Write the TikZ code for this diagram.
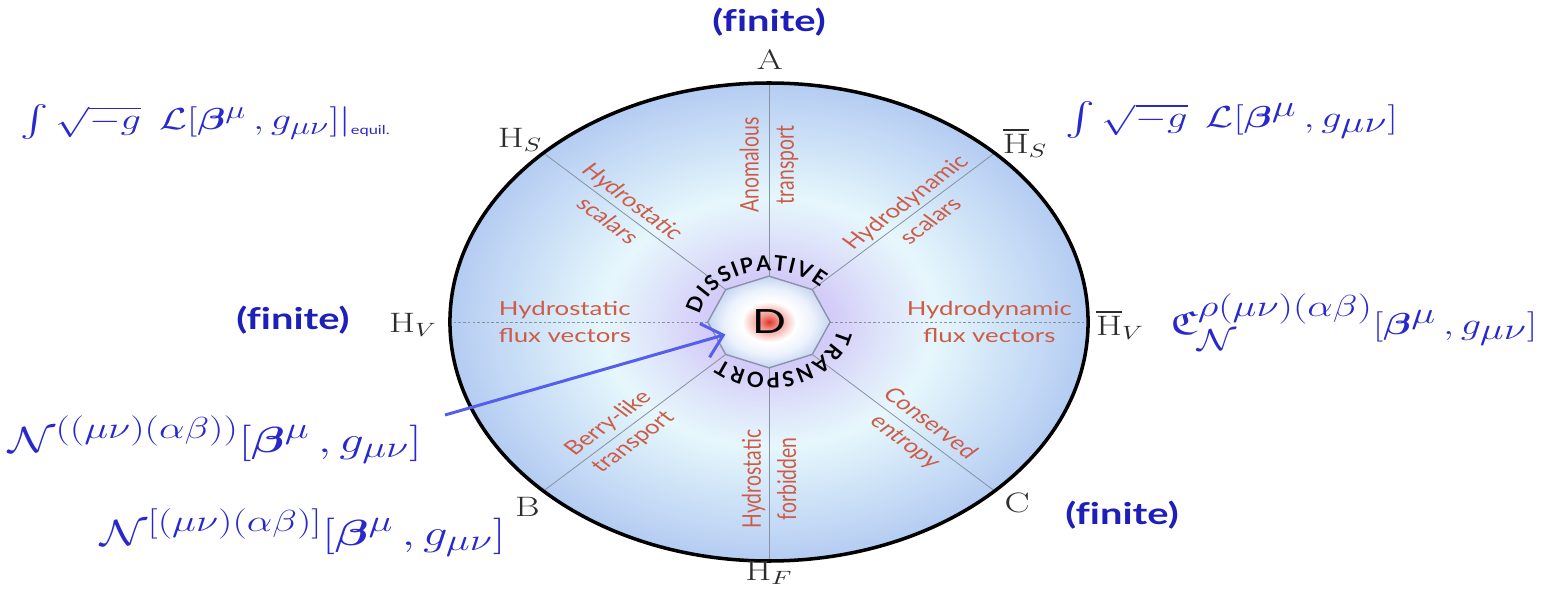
\documentclass[tikz,border=0pt]{standalone}
\usepackage{amsmath,amssymb}
\usepackage{fontspec}
\setsansfont{Lato}
\newfontfamily\finfont[Ligatures=NoCommon]{Lato}
\usetikzlibrary{shapes.geometric,decorations.text,arrows.meta}
\DeclareMathSizes{18}{18}{14}{11}
\DeclareMathSizes{19}{19}{16}{12}
\DeclareMathSizes{21}{21}{17}{13}
\definecolor{rimblue}{RGB}{180,204,242}
\definecolor{palecyan}{RGB}{230,247,252}
\definecolor{lavender}{RGB}{212,204,248}
\definecolor{lavmid}{RGB}{222,228,250}
\definecolor{dred}{RGB}{228,50,40}
\definecolor{lred}{RGB}{242,150,140}
\definecolor{octin}{RGB}{236,242,252}
\definecolor{octrim}{RGB}{196,212,242}
\definecolor{octgray}{RGB}{140,146,170}
\definecolor{spokegray}{RGB}{135,145,160}
\definecolor{redtxt}{RGB}{204,92,72}
\definecolor{mathblue}{RGB}{40,40,205}
\definecolor{finblue}{RGB}{30,30,185}
\definecolor{arrowblue}{RGB}{85,95,235}
\definecolor{labgray}{RGB}{45,45,45}
\pgfdeclareradialshading{discshade}{\pgfpointorigin}{color(0bp)=(lavender); color(5bp)=(lavender); color(9bp)=(lavmid); color(13bp)=(palecyan); color(25bp)=(rimblue); color(50bp)=(rimblue)}
\pgfdeclareradialshading{octshade}{\pgfpointorigin}{color(0bp)=(dred); color(4bp)=(lred); color(11bp)=(white); color(18bp)=(octin); color(25bp)=(octrim); color(50bp)=(octrim)}
\newcommand{\bfield}{[\boldsymbol{\beta}^{\mu}\,,g_{\mu\nu}]}
\tikzset{
  hlabel/.style={text=labgray, font=\fontsize{16}{18}\selectfont, inner sep=1pt},
  redlab/.style={text=redtxt, font=\sffamily\fontsize{11}{15}\selectfont, align=center, inner sep=1pt},
  bluemath/.style={text=mathblue, font=\fontsize{19}{22}\selectfont, anchor=base west, inner sep=0pt},
  finite/.style={text=finblue, font=\finfont\bfseries\fontsize{17}{20}\selectfont},
  spoke/.style={draw=spokegray, line width=0.45pt},
  hspoke/.style={spoke, dash pattern=on 1.5pt off 1.2pt},
  curvtext/.style={decorate, decoration={text along path, text align=fit to path, text={|\sffamily\bfseries\fontsize{12}{12}\selectfont|#1}}}
}
\begin{document}
\begin{tikzpicture}[x=0.02cm, y=0.02cm]
\useasboundingbox (0,0) rectangle (1551,592);
\begin{scope}[shift={(769,270)}, xscale=1.335, transform shape]
  \shade[shading=discshade] (0,0) circle (239);
  \foreach \a in {45,90,135,225,270,315} \draw[spoke] (\a:46) -- (\a:239);
  \foreach \a in {0,180} \draw[hspoke] (\a:46) -- (\a:239);
  \draw[line width=2pt] (0,0) circle (239);
  \node[regular polygon, regular polygon sides=8, shape border rotate=22.5,
        minimum size=52.2pt, inner sep=0pt, draw=octgray, line width=0.8pt,
        shading=octshade, font=\sffamily\fontsize{19}{19}\selectfont] (oct) at (0,0) {D};
  % rim labels
  \node[hlabel] (A) at (0.7,262) {A};
  \node[hlabel] (HS) at (-186.5,182) {$\mathrm{H}_S$};
  \node[hlabel] (HSb) at (191.8,179) {$\overline{\mathrm{H}}_S$};
  \node[hlabel] (HV) at (-266.7,-3) {$\mathrm{H}_V$};
  \node[hlabel] (HVb) at (263,-3) {$\overline{\mathrm{H}}_V$};
  \node[hlabel] (B) at (-181,-185) {B};
  \node[hlabel] (C) at (185.8,-181) {C};
  \node[hlabel] (HF) at (0,-251) {$\mathrm{H}_F$};
  % sector labels
  \node[redlab, rotate=90] (anom) at (90:157) {Anomalous\\transport};
  \node[redlab, rotate=-45] (hss) at (135:157) {Hydrostatic\\scalars};
  \node[redlab, rotate=45] (hds) at (45:157) {Hydrodynamic\\scalars};
  \node[redlab] (hsf) at (180:153) {Hydrostatic\\flux vectors};
  \node[redlab] (hdf) at (0:165) {Hydrodynamic\\flux vectors};
  \node[redlab, rotate=45] (berry) at (225:157) {Berry-like\\transport};
  \node[redlab, rotate=90] (forb) at (270:157) {Hydrostatic\\forbidden};
  \node[redlab, rotate=-45] (cons) at (315:157) {Conserved\\entropy};
  % finite labels
  \node[finite] (finA) at (0,300) {(finite)};
  \node[finite] (finV) at (-356.6,2) {(finite)};
  \node[finite] (finC) at (264.4,-193) {(finite)};
  % formulas
  \node[bluemath, font=\fontsize{18}{21}\selectfont] (fTL) at (-561,192) {$\int\sqrt{-g}\;\,\mathcal{L}\bfield|_{\mbox{\sffamily\fontsize{7}{8}\selectfont equil.}}$};
  \node[bluemath] (fTR) at (221.7,194) {$\int\sqrt{-g}\;\,\mathcal{L}\bfield$};
  \node[bluemath] (fR) at (300.4,-13) {$\mathfrak{C}_{\mathcal{N}}^{\rho(\mu\nu)(\alpha\beta)}\bfield$};
  \node[bluemath, font=\fontsize{21}{23}\selectfont] (fN1) at (-570,-130) {$\mathcal{N}^{((\mu\nu)(\alpha\beta))}\bfield$};
  \node[bluemath, font=\fontsize{21}{23}\selectfont] (fN2) at (-501,-223) {$\mathcal{N}^{[(\mu\nu)(\alpha\beta)]}\bfield$};
  \coordinate (astart) at (-242.7,-93);
\end{scope}
\draw[arrowblue, line width=1.7pt, shorten >=-6pt, -{Straight Barb[length=11pt,width=20pt,line width=1.7pt]}] (astart) -- (oct);
\path[curvtext=DISSIPATIVE] (769,270) ++(172:69 and 51) arc[start angle=172, end angle=42, x radius=69, y radius=51];
\path[curvtext=TRANSPORT] (769,270) ++(-8:69 and 51) arc[start angle=-8, end angle=-134, x radius=69, y radius=51];
\end{tikzpicture}
\end{document}
